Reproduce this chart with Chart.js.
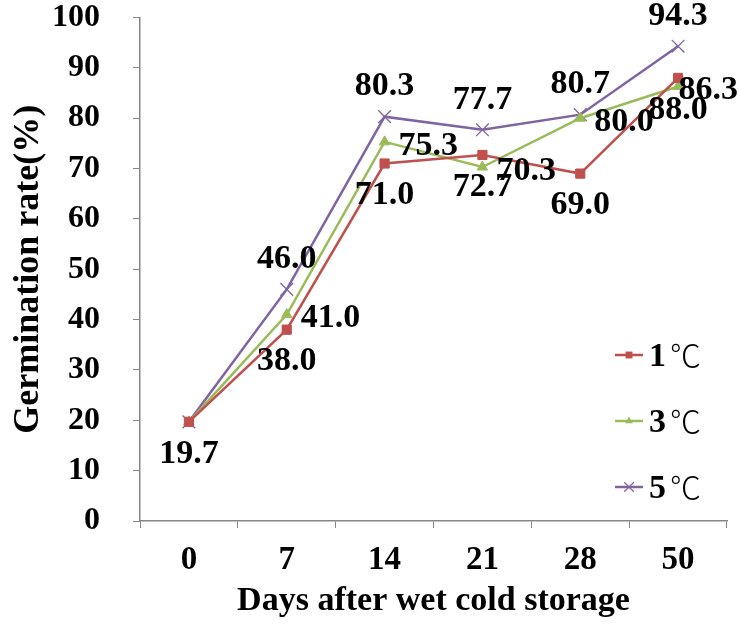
<!DOCTYPE html>
<html>
<head>
<meta charset="utf-8">
<script src="https://cdn.jsdelivr.net/npm/chart.js@4/dist/chart.umd.min.js"></script>
<style>
  html, body { margin: 0; padding: 0; background: #fff; }
</style>
</head>
<body>
<canvas id="germChart" width="741" height="627"></canvas>
<script>
// days after wet cold storage
const DAYS = ['0', '7', '14', '21', '28', '50'];
// germination rate (%) per storage temperature
const RATE_1C = [19.7, 38.0, 71.0, 72.7, 69.0, 88.0];
const RATE_3C = [19.7, 41.0, 75.3, 70.3, 80.0, 86.3];
const RATE_5C = [19.7, 46.0, 80.3, 77.7, 80.7, 94.3];
const SERIES_LABELS = ['1℃', '3℃', '5℃'];

const SERIF = '"Liberation Serif", "Times New Roman", serif';
const AXIS_GRAY = '#868686';

let drawMarker = (ctx, style, x, y, r, color) => {
  ctx.save();
  ctx.fillStyle = color;
  ctx.strokeStyle = color;
  ctx.beginPath();
  if (style === 'rect') {
    let s = r * Math.SQRT1_2;
    ctx.fillRect(x - s, y - s, 2 * s, 2 * s);
  } else if (style === 'triangle') {
    ctx.moveTo(x, y - r);
    ctx.lineTo(x + r * 0.866, y + r * 0.5);
    ctx.lineTo(x - r * 0.866, y + r * 0.5);
    ctx.closePath();
    ctx.fill();
  } else {
    let s = r * Math.SQRT1_2;
    ctx.lineWidth = 1.2;
    ctx.moveTo(x - s, y - s); ctx.lineTo(x + s, y + s);
    ctx.moveTo(x + s, y - s); ctx.lineTo(x - s, y + s);
    ctx.stroke();
  }
  ctx.restore();
};

// value labels next to each point (first point only labelled once)
const valueLabels = {
  id: 'valueLabels',
  afterDatasetsDraw(chart) {
    let ctx = chart.ctx;
    ctx.save();
    ctx.font = 'bold 34px ' + SERIF;
    ctx.fillStyle = '#000';
    chart.data.datasets.forEach((ds, di) => {
      let meta = chart.getDatasetMeta(di);
      meta.data.forEach((pt, i) => {
        if (i === 0 && di > 0) return;
        let text = ds.data[i].toFixed(1);
        if (ds.labelPos === 'below') {
          ctx.textAlign = 'center'; ctx.textBaseline = 'middle';
          ctx.fillText(text, pt.x, pt.y + 32);
        } else if (ds.labelPos === 'above') {
          ctx.textAlign = 'center'; ctx.textBaseline = 'middle';
          ctx.fillText(text, pt.x, pt.y - 30);
        } else {
          // keep right-hand labels inside the canvas
          let w = ctx.measureText(text).width;
          let x = Math.min(pt.x + 14, chart.width - 3 - w);
          ctx.textAlign = 'left'; ctx.textBaseline = 'middle';
          ctx.fillText(text, x, pt.y + 4);
        }
      });
    });
    ctx.restore();
  }
};

// legend drawn inside the plot, lower right
const insideLegend = {
  id: 'insideLegend',
  afterDraw(chart) {
    let ctx = chart.ctx;
    let area = chart.chartArea;
    let x0 = area.right - 112;
    let y0 = area.bottom - 166;
    ctx.save();
    chart.data.datasets.forEach((ds, i) => {
      let y = y0 + i * 66;
      ctx.strokeStyle = ds.borderColor;
      ctx.lineWidth = 2.5;
      ctx.beginPath();
      ctx.moveTo(x0, y);
      ctx.lineTo(x0 + 28, y);
      ctx.stroke();
      drawMarker(ctx, ds.pointStyle, x0 + 14, y, ds.pointRadius * 0.75, ds.pointBackgroundColor);
      let num = ds.label.slice(0, -1);
      let unit = ds.label.slice(-1);
      ctx.fillStyle = '#000';
      ctx.textAlign = 'left';
      ctx.textBaseline = 'middle';
      ctx.font = 'bold 34px ' + SERIF;
      ctx.fillText(num, x0 + 34, y + 2);
      let w = ctx.measureText(num).width;
      ctx.font = '300 31px "Noto Sans CJK SC", "DejaVu Serif", serif';
      ctx.fillText(unit, x0 + 34 + w + 4, y);
    });
    ctx.restore();
  }
};

let getLine = (label, color, data, pointStyle, radius, labelPos) => {
  return {
    label: label,
    data: data,
    borderColor: color,
    backgroundColor: color,
    borderWidth: 2.5,
    tension: 0,
    pointStyle: pointStyle,
    pointRadius: radius,
    pointBackgroundColor: color,
    pointBorderColor: color,
    pointBorderWidth: pointStyle === 'crossRot' ? 1.3 : 1,
    labelPos: labelPos
  };
};

new Chart(document.getElementById('germChart'), {
  type: 'line',
  data: {
    labels: DAYS,
    datasets: [
      getLine(SERIES_LABELS[0], '#C0504D', RATE_1C, 'rect', 6.5, 'below'),
      getLine(SERIES_LABELS[1], '#9BBB59', RATE_3C, 'triangle', 6, 'right'),
      getLine(SERIES_LABELS[2], '#8064A2', RATE_5C, 'crossRot', 9, 'above')
    ]
  },
  options: {
    responsive: false,
    animation: false,
    layout: { padding: { top: 0, right: 14, left: 0, bottom: 0 } },
    plugins: {
      legend: { display: false },
      tooltip: { enabled: false }
    },
    scales: {
      x: {
        offset: true,
        grid: { offset: true, drawOnChartArea: false, tickLength: 7, color: AXIS_GRAY },
        border: { color: AXIS_GRAY, width: 1.5 },
        ticks: { color: '#000', padding: 13, font: { family: SERIF, size: 33, weight: 'bold' } },
        title: {
          display: true,
          text: 'Days after wet cold storage',
          color: '#000',
          padding: { top: 0, bottom: 5 },
          font: { family: SERIF, size: 34, weight: 'bold' }
        },
        afterFit: (scale) => { scale.height = 106; }
      },
      y: {
        min: 0,
        max: 100,
        grid: { drawOnChartArea: false, tickLength: 7, color: AXIS_GRAY },
        border: { color: AXIS_GRAY, width: 1.5 },
        ticks: { stepSize: 10, color: '#000', padding: 33, font: { family: SERIF, size: 32, weight: 'bold' } },
        title: {
          display: true,
          text: 'Germination rate(%)',
          color: '#000',
          padding: { top: 7, bottom: 0 },
          font: { family: SERIF, size: 36, weight: 'bold' }
        },
        afterFit: (scale) => {
          scale.width = 140;
          scale.paddingTop = 17.5;
          scale.paddingBottom = 0;
        }
      }
    }
  },
  plugins: [valueLabels, insideLegend]
});
</script>
</body>
</html>
